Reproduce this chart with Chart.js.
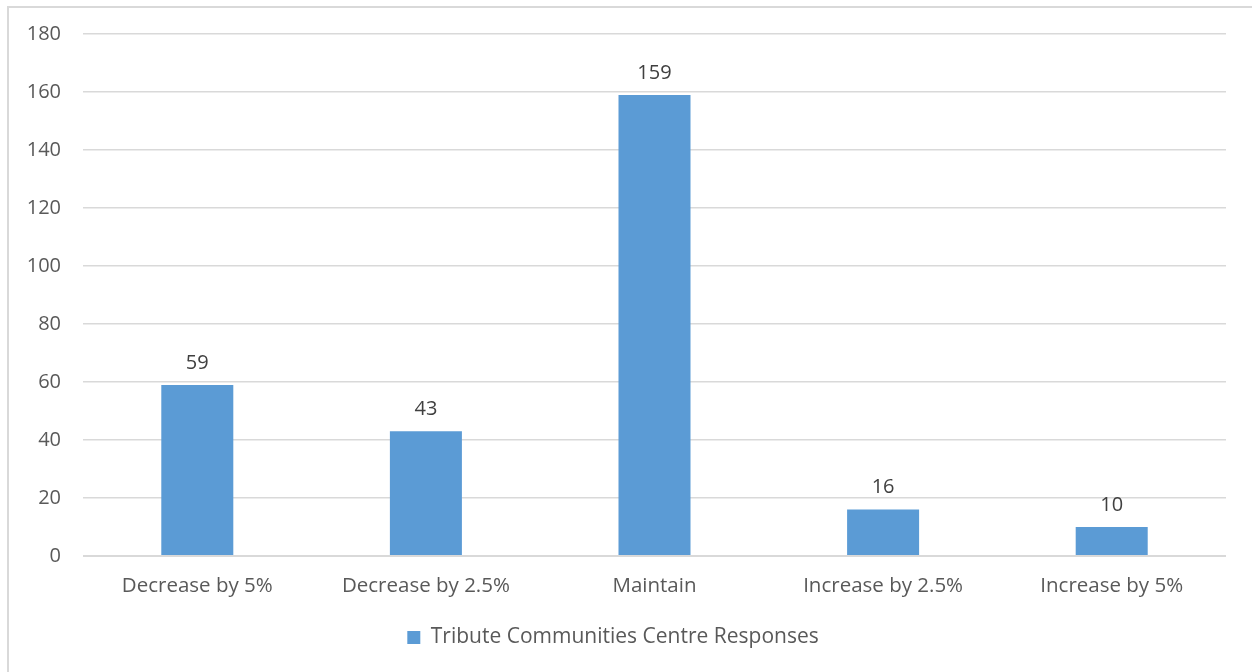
<!DOCTYPE html>
<html>
<head>
<meta charset="utf-8">
<style>
  html, body { margin: 0; padding: 0; background: #fff; }
  body { width: 1252px; height: 672px; overflow: hidden; position: relative; }
  .frame { position: absolute; left: 7px; top: 6px; width: 1300px; height: 700px; border: 2px solid #d9d9d9; box-sizing: border-box; }
  #wrap { position: absolute; left: 0; top: 0; width: 1252px; height: 672px; }
</style>
<script src="https://cdn.jsdelivr.net/npm/chart.js@4.4.1/dist/chart.umd.min.js"></script>
</head>
<body>
<div class="frame"></div>
<div id="wrap"><canvas id="chart" width="1252" height="672"></canvas></div>
<script>
const categories = ["Decrease by 5%", "Decrease by 2.5%", "Maintain", "Increase by 2.5%", "Increase by 5%"];
const responses = [59, 43, 159, 16, 10];
const seriesName = "Tribute Communities Centre Responses";
const yTicks = [0, 20, 40, 60, 80, 100, 120, 140, 160, 180];

const FONT = "'Open Sans', 'Noto Sans', sans-serif";

// Writes each bar's value just above it
const valueLabels = {
  id: 'valueLabels',
  afterDatasetsDraw(chart) {
    const ctx = chart.ctx;
    ctx.save();
    ctx.font = "20px " + FONT;
    ctx.fillStyle = "#404040";
    ctx.textAlign = "center";
    ctx.textBaseline = "bottom";
    chart.getDatasetMeta(0).data.forEach((bar, i) => {
      ctx.fillText(String(chart.data.datasets[0].data[i]), bar.x, bar.y - 12);
    });
    ctx.restore();
  }
};

new Chart(document.getElementById('chart'), {
  type: 'bar',
  data: {
    labels: categories,
    datasets: [{
      label: seriesName,
      data: responses,
      backgroundColor: '#5B9BD5',
      borderWidth: 0,
      categoryPercentage: 1,
      barPercentage: 0.315
    }]
  },
  options: {
    responsive: false,
    animation: false,
    layout: { padding: { left: 0, right: 26, top: 31, bottom: 14 } },
    scales: {
      x: {
        grid: { display: false, drawTicks: false },
        border: { display: false },
        ticks: { color: '#595959', font: { family: FONT, size: 20.5 }, padding: 18 },
        afterFit(scale) { scale.height = 63; }
      },
      y: {
        min: 0, max: 180,
        afterBuildTicks(scale) { scale.ticks = yTicks.map(v => ({ value: v })); },
        grid: {
          color: '#d9d9d9',
          lineWidth: ctx => (ctx.tick && ctx.tick.value === 0 ? 2 : 1.5),
          drawTicks: false
        },
        border: { display: false },
        ticks: { color: '#595959', font: { family: FONT, size: 20 }, padding: 22 },
        afterFit(scale) { scale.width = 83; }
      }
    },
    plugins: {
      legend: {
        position: 'bottom',
        labels: {
          color: '#595959',
          font: { family: FONT, size: 21 },
          boxWidth: 13, boxHeight: 13,
          padding: 8
        }
      },
      tooltip: { enabled: false }
    }
  },
  plugins: [valueLabels]
});
</script>
</body>
</html>
